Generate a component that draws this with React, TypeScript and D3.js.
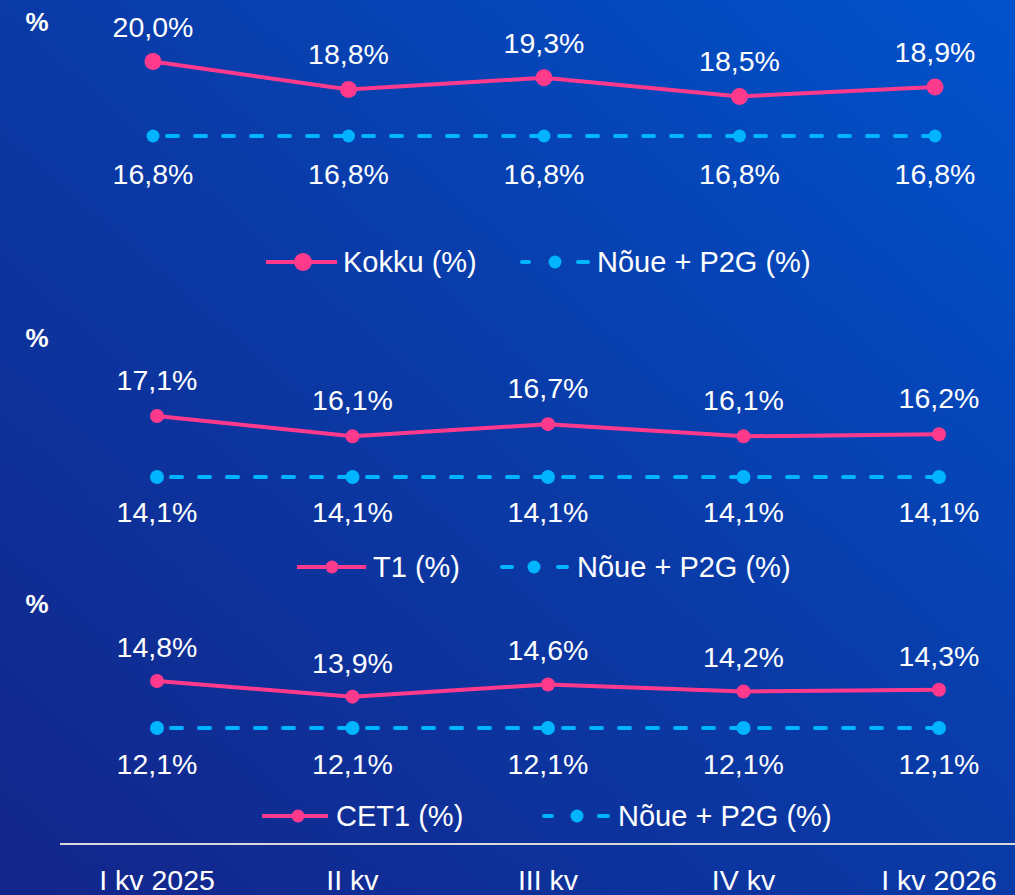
import { useEffect, useRef } from 'react'

import * as d3 from 'd3'

const categories = ['I kv 2025', 'II kv', 'III kv', 'IV kv', 'I kv 2026']

const kokku = [20.0, 18.8, 19.3, 18.5, 18.9]
const t1 = [17.1, 16.1, 16.7, 16.1, 16.2]
const cet1 = [14.8, 13.9, 14.6, 14.2, 14.3]

const noueKokku = [16.8, 16.8, 16.8, 16.8, 16.8]
const noueT1 = [14.1, 14.1, 14.1, 14.1, 14.1]
const noueCet1 = [12.1, 12.1, 12.1, 12.1, 12.1]

const seriesNames = ['Kokku (%)', 'T1 (%)', 'CET1 (%)']
const requirementName = 'Nõue + P2G (%)'

const PINK = '#FF3A8C'
const CYAN = '#00B4FF'
const FONT = '"Liberation Sans", Arial, sans-serif'

type Panel = {
  main: number[]
  req: number[]
  name: string
  xRange: [number, number]
  yRange: [number, number]
  pctY: number
  rMain: number
  rReq: number
  above: number
  below: number
  legY: number
  legMain: { x0: number; x1: number; dot: number; r: number; text: number }
  legReq: { a: [number, number]; b: [number, number]; dot: number; text: number }
}

const panels: Panel[] = [
  {
    main: kokku,
    req: noueKokku,
    name: seriesNames[0],
    xRange: [153, 935],
    yRange: [136, 61.5],
    pctY: 31,
    rMain: 8.5,
    rReq: 6.5,
    above: -25,
    below: 48,
    legY: 262,
    legMain: { x0: 266, x1: 337, dot: 303, r: 9, text: 343 },
    legReq: { a: [520, 531], b: [576, 590], dot: 555, text: 597 },
  },
  {
    main: t1,
    req: noueT1,
    name: seriesNames[1],
    xRange: [157, 939],
    yRange: [477, 416],
    pctY: 347,
    rMain: 7,
    rReq: 7,
    above: -26,
    below: 45,
    legY: 567,
    legMain: { x0: 297, x1: 366, dot: 332, r: 6.5, text: 373 },
    legReq: { a: [500, 514], b: [556, 569], dot: 534, text: 577 },
  },
  {
    main: cet1,
    req: noueCet1,
    name: seriesNames[2],
    xRange: [157, 939],
    yRange: [728, 681],
    pctY: 613,
    rMain: 7,
    rReq: 7,
    above: -24,
    below: 46,
    legY: 816,
    legMain: { x0: 262, x1: 328, dot: 298, r: 6.5, text: 336 },
    legReq: { a: [542, 554], b: [597, 610], dot: 577, text: 618 },
  },
]

const fmt = (v: number) => v.toFixed(1).replace('.', ',') + '%'

const App = () => {
  const ref = useRef<SVGSVGElement>(null)

  useEffect(() => {
    const svg = d3.select(ref.current)
    svg.selectAll('*').remove()

    // taust
    const defs = svg.append('defs')
    const grad = defs
      .append('linearGradient')
      .attr('id', 'bg')
      .attr('x1', '0')
      .attr('y1', '1')
      .attr('x2', '1')
      .attr('y2', '0')
    grad.append('stop').attr('offset', '0%').attr('stop-color', '#13258A')
    grad.append('stop').attr('offset', '50%').attr('stop-color', '#0A3AA6')
    grad.append('stop').attr('offset', '100%').attr('stop-color', '#0052CC')
    svg.append('rect').attr('width', 1015).attr('height', 895).attr('fill', 'url(#bg)')

    panels.forEach((p) => {
      const g = svg.append('g')
      const x = d3.scalePoint<string>().domain(categories).range(p.xRange)
      const y = d3
        .scaleLinear()
        .domain([p.req[0], d3.max(p.main) as number])
        .range(p.yRange)

      g.append('text')
        .attr('x', 37)
        .attr('y', p.pctY)
        .attr('text-anchor', 'middle')
        .attr('font-family', FONT)
        .attr('font-weight', 'bold')
        .attr('font-size', 26)
        .attr('fill', '#fff')
        .text('%')

      const line = d3
        .line<number>()
        .x((_, i) => x(categories[i]) as number)
        .y((d) => y(d))

      // nõude joon
      g.append('path')
        .datum(p.req)
        .attr('d', line)
        .attr('fill', 'none')
        .attr('stroke', CYAN)
        .attr('stroke-width', 4)
        .attr('stroke-dasharray', '11,17')
        .attr('stroke-dashoffset', -14)
        .attr('stroke-linecap', 'round')

      g.selectAll('.req')
        .data(p.req)
        .join('circle')
        .attr('cx', (_, i) => x(categories[i]) as number)
        .attr('cy', (d) => y(d))
        .attr('r', p.rReq)
        .attr('fill', CYAN)

      // põhiseeria
      g.append('path')
        .datum(p.main)
        .attr('d', line)
        .attr('fill', 'none')
        .attr('stroke', PINK)
        .attr('stroke-width', 4)

      g.selectAll('.main')
        .data(p.main)
        .join('circle')
        .attr('cx', (_, i) => x(categories[i]) as number)
        .attr('cy', (d) => y(d))
        .attr('r', p.rMain)
        .attr('fill', PINK)

      const label = (vals: number[], off: number) =>
        g
          .append('g')
          .selectAll('text')
          .data(vals)
          .join('text')
          .attr('x', (_, i) => x(categories[i]) as number)
          .attr('y', (d) => y(d) + off)
          .attr('text-anchor', 'middle')
          .attr('font-family', FONT)
          .attr('font-size', 28.5)
          .attr('fill', '#fff')
          .text((d) => fmt(d))

      label(p.main, p.above)
      label(p.req, p.below)

      // legend
      const lm = p.legMain
      g.append('line')
        .attr('x1', lm.x0)
        .attr('x2', lm.x1)
        .attr('y1', p.legY)
        .attr('y2', p.legY)
        .attr('stroke', PINK)
        .attr('stroke-width', 4)
      g.append('circle').attr('cx', lm.dot).attr('cy', p.legY).attr('r', lm.r).attr('fill', PINK)
      g.append('text')
        .attr('x', lm.text)
        .attr('y', p.legY + 10)
        .attr('font-family', FONT)
        .attr('font-size', 29)
        .attr('fill', '#fff')
        .text(p.name)

      const lr = p.legReq
      ;[lr.a, lr.b].forEach(([a, b]) => {
        g.append('line')
          .attr('x1', a + 2)
          .attr('x2', b - 2)
          .attr('y1', p.legY)
          .attr('y2', p.legY)
          .attr('stroke', CYAN)
          .attr('stroke-width', 4)
          .attr('stroke-linecap', 'round')
      })
      g.append('circle').attr('cx', lr.dot).attr('cy', p.legY).attr('r', 6.5).attr('fill', CYAN)
      g.append('text')
        .attr('x', lr.text)
        .attr('y', p.legY + 10)
        .attr('font-family', FONT)
        .attr('font-size', 29)
        .attr('fill', '#fff')
        .text(requirementName)
    })

    // x-telg
    const xAxis = d3.scalePoint<string>().domain(categories).range([157, 939])
    svg
      .append('line')
      .attr('x1', 60)
      .attr('x2', 1015)
      .attr('y1', 844)
      .attr('y2', 844)
      .attr('stroke', '#D9D9D9')
      .attr('stroke-width', 2)
    svg
      .append('g')
      .selectAll('text')
      .data(categories)
      .join('text')
      .attr('x', (d) => xAxis(d) as number)
      .attr('y', 890)
      .attr('text-anchor', 'middle')
      .attr('font-family', FONT)
      .attr('font-size', 28.5)
      .attr('fill', '#fff')
      .text((d) => d)
  }, [])

  return (
    <svg
      ref={ref}
      width={1015}
      height={895}
      style={{ position: 'absolute', left: 0, top: 0, display: 'block' }}
    />
  )
}

export default App
